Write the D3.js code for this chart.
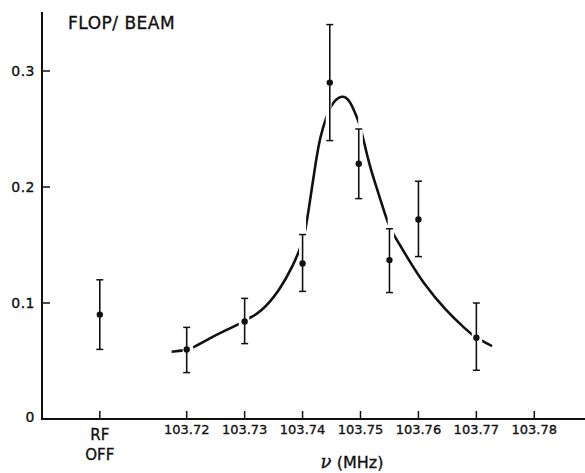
<!DOCTYPE html>
<html>
<head>
<meta charset="utf-8">
<script src="https://cdn.jsdelivr.net/npm/d3@7"></script>
<style>
    body {margin:0; background:#fff;}
    text {font-family:"DejaVu Sans", sans-serif; fill:#111; stroke:#111; stroke-width:0.35px;}
</style>
</head>
<body>
<div id="chart"></div>
<script>
// measured points (frequency in MHz, flop per beam)
const freqs = [103.72, 103.73, 103.74, 103.7447, 103.7497, 103.755, 103.76, 103.77];
const values = [0.060, 0.084, 0.134, 0.290, 0.220, 0.137, 0.172, 0.070];
const errLow = [0.040, 0.065, 0.110, 0.240, 0.190, 0.109, 0.140, 0.042];
const errHigh = [0.079, 0.104, 0.159, 0.340, 0.250, 0.164, 0.205, 0.100];

// the "RF off" point sits left of the frequency axis
const rfOff = {pos:103.705, value:0.090, low:0.060, high:0.120};

// fitted curve
const curvePoints = [
    [103.7174,0.0580],[103.7195,0.0590],[103.7209,0.0608],[103.7240,0.0696],
    [103.7265,0.0760],[103.7292,0.0819],[103.7306,0.0868],[103.7327,0.0914],
    [103.7361,0.1112],[103.7384,0.1328],[103.7396,0.1470],[103.7405,0.1615],
    [103.7413,0.1888],[103.7422,0.2190],[103.7430,0.2431],[103.7442,0.2621],
    [103.7450,0.2707],[103.7458,0.2759],[103.7468,0.2784],[103.7475,0.2772],
    [103.7482,0.2735],[103.7491,0.2635],[103.7498,0.2549],[103.7504,0.2434],
    [103.7516,0.2175],[103.7531,0.1946],[103.7548,0.1672],[103.7557,0.1590],
    [103.7580,0.1399],[103.7608,0.1170],[103.7649,0.0925],[103.7680,0.0782],
    [103.7693,0.0724],[103.7709,0.0675],[103.7727,0.0629]
];
// the curve is broken where it meets the error bars
const curveGaps = [
    [103.7193,103.7211],[103.7290,103.7308],[103.7394,103.7406],[103.7440,103.7450],
    [103.7496,103.7504],[103.7547,103.7558],[103.7692,103.7710]
];

const xTicks = [103.72, 103.73, 103.74, 103.75, 103.76, 103.77, 103.78];
const yTicks = [0, 0.1, 0.2, 0.3];
const yTickLabels = ["0", "0.1", "0.2", "0.3"];

const width = 585;
const height = 473;
const axisX = 42;
const axisY = 419;

const xScale = d3.scaleLinear().domain([103.72,103.78]).range([186.7,534.3]);
const yScale = d3.scaleLinear().domain([0,0.3]).range([axisY,71]);

const svg = d3.select("#chart")
    .append("svg")
    .attr("width",width)
    .attr("height",height);

// axes drawn by hand to keep the inward ticks of the original
svg.append("line")
    .attr("x1",axisX).attr("x2",axisX)
    .attr("y1",12).attr("y2",axisY+1)
    .attr("stroke","#111").attr("stroke-width",2);

svg.append("line")
    .attr("x1",axisX-1).attr("x2",width)
    .attr("y1",axisY).attr("y2",axisY)
    .attr("stroke","#111").attr("stroke-width",2);

svg.selectAll(".ytick")
    .data(yTicks)
    .enter()
    .append("line")
    .attr("x1",axisX).attr("x2",axisX+8)
    .attr("y1",d=>yScale(d)).attr("y2",d=>yScale(d))
    .attr("stroke","#111").attr("stroke-width",1.5);

svg.selectAll(".ylabel")
    .data(yTicks)
    .enter()
    .append("text")
    .attr("x",axisX-7)
    .attr("y",d=>yScale(d))
    .attr("dy",d=>d==0 ? "0.2em" : "0.35em")
    .attr("text-anchor","end")
    .attr("font-size","14px")
    .attr("letter-spacing","0.5px")
    .text((d,i)=>yTickLabels[i]);

svg.selectAll(".xtick")
    .data(xTicks.concat([rfOff.pos]))
    .enter()
    .append("line")
    .attr("x1",d=>xScale(d)).attr("x2",d=>xScale(d))
    .attr("y1",axisY).attr("y2",axisY-8)
    .attr("stroke","#111").attr("stroke-width",1.5);

svg.selectAll(".xlabel")
    .data(xTicks)
    .enter()
    .append("text")
    .attr("x",d=>xScale(d))
    .attr("y",434)
    .attr("text-anchor","middle")
    .attr("font-size","13px")
    .text(d=>d.toFixed(2));

svg.append("text")
    .attr("x",xScale(rfOff.pos))
    .attr("y",440)
    .attr("text-anchor","middle")
    .attr("font-size","15px")
    .text("RF");

svg.append("text")
    .attr("x",xScale(rfOff.pos))
    .attr("y",460)
    .attr("text-anchor","middle")
    .attr("font-size","15px")
    .text("OFF");

const xTitle = svg.append("text")
    .attr("x",352)
    .attr("y",468)
    .attr("text-anchor","middle")
    .attr("font-size","16px");
xTitle.append("tspan").attr("font-style","italic").attr("font-family","DejaVu Serif").attr("font-size","18px").text("\u03bd");
xTitle.append("tspan").text(" (MHz)");

svg.append("text")
    .attr("x",68)
    .attr("y",29)
    .attr("font-size","17px")
    .attr("letter-spacing","0.5px")
    .text("FLOP/ BEAM");

// mask that cuts the curve where it crosses the bars
const mask = svg.append("defs")
    .append("mask")
    .attr("id","gaps")
    .attr("maskUnits","userSpaceOnUse")
    .attr("x",0).attr("y",0)
    .attr("width",width).attr("height",height);

mask.append("rect")
    .attr("x",0).attr("y",0)
    .attr("width",width).attr("height",height)
    .attr("fill","white");

mask.selectAll("rect.gap")
    .data(curveGaps)
    .enter()
    .append("rect")
    .attr("class","gap")
    .attr("x",d=>xScale(d[0]))
    .attr("y",0)
    .attr("width",d=>xScale(d[1])-xScale(d[0]))
    .attr("height",height)
    .attr("fill","black");

const lineGraph = d3.line()
    .x(d=>xScale(d[0]))
    .y(d=>yScale(d[1]))
    .curve(d3.curveBasis);

svg.append("path")
    .datum(curvePoints)
    .attr("d",lineGraph)
    .attr("fill","none")
    .attr("stroke","#111")
    .attr("stroke-width",2.6)
    .attr("mask","url(#gaps)");

// error bars and points
const points = freqs.map((f,i)=>({pos:f,value:values[i],low:errLow[i],high:errHigh[i]}));
points.unshift(rfOff);

const bars = svg.selectAll(".bar")
    .data(points)
    .enter()
    .append("g");

bars.append("line")
    .attr("x1",d=>xScale(d.pos)).attr("x2",d=>xScale(d.pos))
    .attr("y1",d=>yScale(d.low)).attr("y2",d=>yScale(d.high))
    .attr("stroke","#111").attr("stroke-width",1.6);

bars.append("line")
    .attr("x1",d=>xScale(d.pos)-3.5).attr("x2",d=>xScale(d.pos)+3.5)
    .attr("y1",d=>yScale(d.low)).attr("y2",d=>yScale(d.low))
    .attr("stroke","#111").attr("stroke-width",1.5);

bars.append("line")
    .attr("x1",d=>xScale(d.pos)-3.5).attr("x2",d=>xScale(d.pos)+3.5)
    .attr("y1",d=>yScale(d.high)).attr("y2",d=>yScale(d.high))
    .attr("stroke","#111").attr("stroke-width",1.5);

bars.append("circle")
    .attr("cx",d=>xScale(d.pos))
    .attr("cy",d=>yScale(d.value))
    .attr("r",3.2)
    .attr("fill","#111");
</script>
</body>
</html>
